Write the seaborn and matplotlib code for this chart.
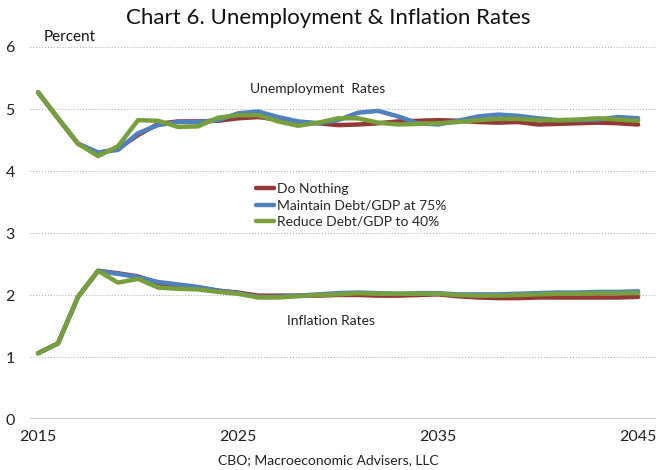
import pandas as pd
import matplotlib.pyplot as plt
import seaborn as sns

years = list(range(2015, 2046))
scenarios = ["Do Nothing", "Maintain Debt/GDP at 75%", "Reduce Debt/GDP to 40%"]

# unemployment rates, %
unemp_nothing = [5.27, 4.85, 4.44, 4.29, 4.36, 4.58, 4.76, 4.80, 4.80, 4.81, 4.85,
                 4.87, 4.83, 4.78, 4.77, 4.74, 4.75, 4.77, 4.80, 4.81, 4.82,
                 4.81, 4.79, 4.78, 4.79, 4.75, 4.76, 4.77, 4.78, 4.77, 4.75]
unemp_maintain = [5.27, 4.85, 4.44, 4.30, 4.34, 4.61, 4.74, 4.79, 4.79, 4.82, 4.93,
                  4.96, 4.87, 4.80, 4.77, 4.82, 4.94, 4.97, 4.88, 4.77, 4.75,
                  4.81, 4.88, 4.91, 4.89, 4.85, 4.82, 4.82, 4.83, 4.87, 4.85]
unemp_reduce = [5.27, 4.85, 4.44, 4.24, 4.40, 4.82, 4.81, 4.71, 4.72, 4.86, 4.90,
                4.90, 4.80, 4.73, 4.78, 4.85, 4.85, 4.78, 4.75, 4.76, 4.77,
                4.79, 4.82, 4.84, 4.84, 4.82, 4.82, 4.83, 4.85, 4.83, 4.81]

# inflation rates, %
infl_nothing = [1.06, 1.22, 1.97, 2.39, 2.35, 2.30, 2.19, 2.15, 2.12, 2.07, 2.04,
                1.99, 1.99, 1.99, 1.99, 2.00, 2.00, 1.99, 1.99, 2.00, 2.01,
                1.98, 1.96, 1.95, 1.95, 1.96, 1.96, 1.96, 1.96, 1.96, 1.97]
infl_maintain = [1.06, 1.22, 1.97, 2.39, 2.34, 2.29, 2.21, 2.17, 2.13, 2.07, 2.03,
                 1.97, 1.97, 1.99, 2.01, 2.03, 2.04, 2.03, 2.02, 2.03, 2.03,
                 2.01, 2.01, 2.01, 2.02, 2.03, 2.04, 2.04, 2.05, 2.05, 2.06]
infl_reduce = [1.06, 1.22, 1.97, 2.39, 2.20, 2.26, 2.12, 2.10, 2.09, 2.05, 2.02,
               1.96, 1.96, 1.98, 2.00, 2.01, 2.03, 2.02, 2.02, 2.02, 2.02,
               2.00, 1.99, 1.99, 2.00, 2.01, 2.02, 2.02, 2.03, 2.03, 2.03]

colors = ["#953735", "#4F81BD", "#77A03C"]

series = {
    ("Unemployment", scenarios[0]): unemp_nothing,
    ("Unemployment", scenarios[1]): unemp_maintain,
    ("Unemployment", scenarios[2]): unemp_reduce,
    ("Inflation", scenarios[0]): infl_nothing,
    ("Inflation", scenarios[1]): infl_maintain,
    ("Inflation", scenarios[2]): infl_reduce,
}
rows = []
for (measure, scen), vals in series.items():
    for y, v in zip(years, vals):
        rows.append({"year": y, "value": v, "scenario": scen, "measure": measure})
df = pd.DataFrame(rows)

sns.set_style("white")
plt.rcParams["font.family"] = ["Lato", "DejaVu Sans"]

fig = plt.figure(figsize=(6.57, 4.70), dpi=100)
ax = fig.add_axes([0.0457, 0.1085, 0.953, 0.7915])

sns.lineplot(data=df, x="year", y="value", hue="scenario", units="measure",
             estimator=None, hue_order=scenarios, palette=colors,
             linewidth=3.2, ax=ax)

ax.set_xlim(2014.6, 2045.9)
ax.set_ylim(0, 6)
ax.set_yticks(range(0, 7))
ax.set_xticks([2015, 2025, 2035, 2045])
for y in range(1, 7):
    ax.axhline(y, color="#a6a6a6", lw=0.7, ls=(0, (1, 2)), zorder=0)
ax.axhline(0, color="#bfbfbf", lw=1.2, zorder=0)
for s in ax.spines.values():
    s.set_visible(False)
ax.tick_params(axis="both", length=0, labelsize=11.5, colors="#222222")
ax.tick_params(axis="y", pad=11)
ax.tick_params(axis="x", pad=8)
ax.set_xlabel("")
ax.set_ylabel("")

fig.text(0.5, 0.962, "Chart 6. Unemployment & Inflation Rates", ha="center",
         va="center", fontsize=16, color="#111111")
fig.text(0.066, 0.922, "Percent", ha="left", va="center", fontsize=11, color="#111111")
fig.text(0.5, 0.021, "CBO; Macroeconomic Advisers, LLC", ha="center", va="center",
         fontsize=10, color="#222222")
ax.text(2029.0, 5.33, "Unemployment  Rates", ha="center", va="center", fontsize=10,
        color="#222222")
ax.text(2029.65, 1.58, "Inflation Rates", ha="center", va="center", fontsize=10,
        color="#222222")

ax.legend(loc="upper left", bbox_to_anchor=(0.345, 0.66), frameon=False,
          fontsize=10, handlelength=1.3, handletextpad=0.2, labelspacing=0.3,
          borderpad=0.2)

fig.savefig("out.png", dpi=100)
